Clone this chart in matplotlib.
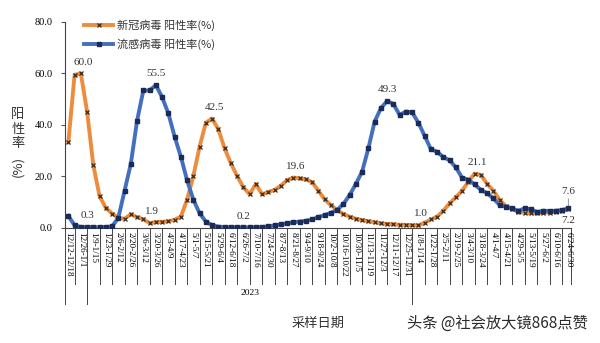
import matplotlib
matplotlib.use("Agg")
import matplotlib.pyplot as plt
from matplotlib.font_manager import FontProperties

# ---- data ----
week_labels = [
    "12/12-12/18", "12/26-1/1", "1/9-1/15", "1/23-1/29", "2/6-2/12", "2/20-2/26",
    "3/6-3/12", "3/20-3/26", "4/3-4/9", "4/17-4/23", "5/1-5/7", "5/15-5/21",
    "5/29-6/4", "6/12-6/18", "6/26-7/2", "7/10-7/16", "7/24-7/30", "8/7-8/13",
    "8/21-8/27", "9/4-9/10", "9/18-9/24", "10/2-10/8", "10/16-10/22", "10/30-11/5",
    "11/13-11/19", "11/27-12/3", "12/11-12/17", "12/25-12/31", "1/8-1/14",
    "1/22-1/28", "2/5-2/11", "2/19-2/25", "3/4-3/10", "3/18-3/24", "4/1-4/7",
    "4/15-4/21", "4/29-5/5", "5/13-5/19", "5/27-6/2", "6/10-6/16", "6/24-6/30",
]

covid = [
    33.3, 59.5, 60.0, 45.2, 24.3, 12.3, 7.8, 5.6, 3.9, 3.6,
    5.3, 4.2, 3.4, 1.9, 2.3, 2.4, 2.6, 3.2, 4.4, 11.0,
    20.2, 31.6, 40.9, 42.5, 38.3, 30.9, 25.1, 20.2, 15.8, 13.1,
    17.1, 13.1, 14.0, 14.8, 16.4, 18.6, 19.6, 19.3, 18.9, 17.8,
    14.5, 11.1, 8.9, 7.0, 5.4, 4.4, 3.6, 3.1, 2.6, 2.2,
    1.8, 1.6, 1.4, 1.3, 1.2, 1.1, 1.0, 2.0, 3.3, 4.4,
    6.7, 9.6, 11.9, 14.5, 18.0, 21.1, 20.6, 17.1, 14.5, 10.9,
    8.5, 7.3, 6.3, 5.9, 5.7, 5.7, 5.9, 6.0, 6.3, 6.5, 7.2,
]

flu = [
    4.7, 1.0, 0.4, 0.3, 0.3, 0.3, 0.4, 0.6, 4.0, 14.5,
    25.0, 41.7, 53.4, 53.4, 55.5, 50.8, 44.5, 35.5, 27.7, 18.5,
    11.0, 5.7, 2.5, 1.1, 0.5, 0.4, 0.3, 0.3, 0.2, 0.3,
    0.3, 0.4, 0.6, 1.0, 1.4, 1.8, 2.2, 2.5, 2.8, 3.3,
    4.2, 5.0, 5.9, 7.0, 9.3, 12.8, 17.1, 21.9, 30.9, 41.3,
    46.5, 49.3, 48.2, 43.9, 45.2, 44.9, 40.9, 35.8, 30.6, 29.6,
    27.5, 26.3, 23.5, 19.5, 18.8, 16.9, 14.8, 13.5, 11.5, 8.9,
    8.3, 7.6, 6.7, 7.6, 7.3, 6.2, 6.7, 6.6, 6.7, 7.0, 7.6,
]

covid_label_idx = [2, 13, 23, 36, 56, 65]
flu_label_idx = [3, 14, 28, 51]
end_idx = 80

series_names = ["新冠病毒 阳性率(%)", "流感病毒 阳性率(%)"]
year_label = "2023"
year_group = (3, 55)   # category boundaries of the 2023 group
y_ticks = [0, 20, 40, 60, 80]

# ---- style ----
ORANGE = "#EE8C3E"
BLUE = "#4370BE"
serif = "Liberation Serif"
cjk = ["Noto Sans CJK SC", "DejaVu Sans"]

fig = plt.figure(figsize=(6, 3.43), dpi=100)
ax = fig.add_axes([0.1087, 0.3353, 0.8438, 0.6006])

x = list(range(len(covid)))
l1, = ax.plot(x, covid, color=ORANGE, lw=2.8, marker="x", ms=3.2,
              mec="#3a2a1a", mew=0.9, zorder=3, solid_joinstyle="round")
l2, = ax.plot(x, flu, color=BLUE, lw=2.8, marker="s", ms=2.4,
              mfc="#1c2b55", mec="#1c2b55", zorder=4, solid_joinstyle="round")

ax.set_xlim(-0.5, len(covid) - 0.5)
ax.set_ylim(0, 80)
ax.set_yticks(y_ticks)
ax.set_yticklabels([f"{v:.1f}" for v in y_ticks], fontfamily=serif, fontsize=7.5)
ax.tick_params(axis="y", length=3, width=0.8, color="#555555", pad=6)

ax.set_xticks(list(range(0, len(covid), 2)))
ax.set_xticklabels(week_labels, rotation=270, fontfamily=serif, fontsize=6.6)
ax.tick_params(axis="x", length=0, pad=3)

for s in ["top", "right"]:
    ax.spines[s].set_visible(False)
for s in ["left", "bottom"]:
    ax.spines[s].set_color("#444444")
    ax.spines[s].set_linewidth(0.8)

# category separators below the axis
tr = ax.get_xaxis_transform()
seps = [-0.5] + list(range(1, len(covid), 2)) + [len(covid) - 0.5]
long_seps = {-0.5, year_group[0], year_group[1]}
for p in seps:
    bottom = -0.37 if p in long_seps else -0.27
    ax.plot([p, p], [0, bottom], transform=tr, color="#444444", lw=0.7,
            clip_on=False, zorder=1)

ax.text((year_group[0] + year_group[1]) / 2, -0.315, year_label, transform=tr,
        ha="center", va="center", fontfamily=serif, fontsize=6.8)

# data labels
lab_kw = dict(textcoords="offset points", ha="center", fontfamily=serif,
              fontsize=8, color="#333333")
for i in covid_label_idx:
    ax.annotate(f"{covid[i]:.1f}", (i, covid[i]), xytext=(2, 5), va="bottom", **lab_kw)
for i in flu_label_idx:
    ax.annotate(f"{flu[i]:.1f}", (i, flu[i]), xytext=(0, 5), va="bottom", **lab_kw)
ax.annotate(f"{flu[end_idx]:.1f}", (end_idx, flu[end_idx]), xytext=(0, 9),
            va="bottom", arrowprops=dict(arrowstyle="-", color="#888888", lw=0.6,
                                         shrinkA=0, shrinkB=2), **lab_kw)
ax.annotate(f"{covid[end_idx]:.1f}", (end_idx, covid[end_idx]), xytext=(0, -5),
            va="top", **lab_kw)

# legend
leg = ax.legend([l1, l2], series_names, loc="upper left",
                bbox_to_anchor=(0.027, 1.04), frameon=False,
                prop=FontProperties(family=cjk, size=8), handlelength=2.6,
                handletextpad=0.3, labelspacing=0.75, borderpad=0)
for t in leg.get_texts():
    t.set_color("#333333")

# axis titles
fig.text(18 / 600, 1 - 129 / 343, "阳\n性\n率", ha="center", va="center",
         family=cjk, fontsize=9.5, linespacing=1.15, color="#333333")
fig.text(18 / 600, 1 - 166 / 343, "(%)", ha="center", va="center", rotation=90,
         family=cjk, fontsize=9.5, color="#333333")
fig.text(318 / 600, 1 - 323 / 343, "采样日期", ha="center", va="center",
         family=cjk, fontsize=9.5, color="#333333")
fig.text(497 / 600, 1 - 323 / 343, "头条 @社会放大镜868点赞", ha="center",
         va="center", family=cjk, fontsize=11, color="#2a2a2a")

fig.savefig("out.png", dpi=100)
